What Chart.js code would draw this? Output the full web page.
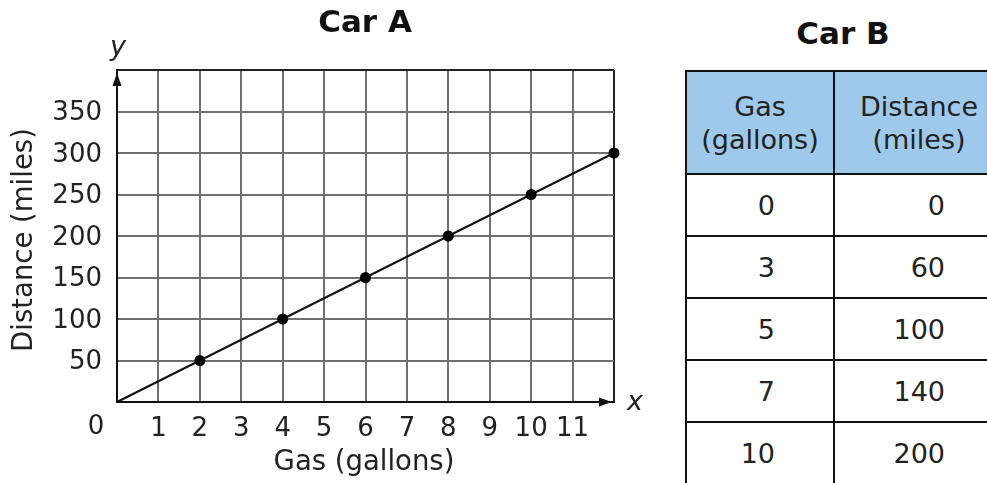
<!DOCTYPE html>
<html>
<head>
<meta charset="utf-8">
<script src="https://cdn.jsdelivr.net/npm/chart.js@4.4.1/dist/chart.umd.min.js"></script>
<style>
  html, body { margin: 0; padding: 0; background: #fff; width: 987px; height: 483px; overflow: hidden; }
  body { position: relative; font-family: "DejaVu Sans", Verdana, sans-serif; color: #222; }
  #chart { position: absolute; left: 0; top: 0; }
  #titleB { position: absolute; left: 743px; width: 200px; top: 13px; text-align: center; font-weight: bold; font-size: 31px; line-height: 40px; color: #111; }
  #tableB { position: absolute; left: 685px; top: 70px; width: 318px; border-collapse: collapse; table-layout: fixed; font-size: 27px; }
  #tableB th, #tableB td { border: 2px solid #111; padding: 0 58px 0 0; text-align: right; }
  #tableB th { background: #9fc9ea; font-weight: normal; text-align: center; padding: 0; height: 101px; line-height: 33px; color: #222; }
  #tableB td { height: 60px; }
</style>
</head>
<body>
<canvas id="chart" width="660" height="483"></canvas>
<div id="titleB">Car B</div>
<table id="tableB">
  <colgroup><col style="width:148px"><col style="width:170px"></colgroup>
  <thead><tr id="headRow"></tr></thead>
  <tbody id="bodyRows"></tbody>
</table>
<script>
'use strict';

// Car A (graph)
const gasA = [0, 2, 4, 6, 8, 10, 12];
const distA = [0, 50, 100, 150, 200, 250, 300];

// Car B (table)
const headB = ['Gas<br>(gallons)', 'Distance<br>(miles)'];
const gasB = [0, 3, 5, 7, 10];
const distB = [0, 60, 100, 140, 200];

let headRow = document.getElementById('headRow');
headB.forEach(h => {
  let th = document.createElement('th');
  th.innerHTML = h;
  headRow.appendChild(th);
});
let body = document.getElementById('bodyRows');
gasB.forEach((g, i) => {
  let tr = document.createElement('tr');
  tr.innerHTML = '<td>' + g + '</td><td>' + distB[i] + '</td>';
  body.appendChild(tr);
});

const font = { family: '"DejaVu Sans"', size: 26 };

// titles, axis names, arrows
const extras = {
  id: 'extras',
  afterDraw(chart) {
    let c = chart.ctx;
    let a = chart.chartArea;
    c.save();
    c.fillStyle = '#111';
    c.textAlign = 'center';
    c.textBaseline = 'middle';
    c.font = 'bold 31px "DejaVu Sans"';
    c.fillText('Car A', 365, 24);
    c.fillStyle = '#222';
    c.font = '27.5px "DejaVu Sans"';
    c.fillText('Gas (gallons)', 364, 463);
    c.save();
    c.translate(25, 240);
    c.rotate(-Math.PI / 2);
    c.fillText('Distance (miles)', 0, 0);
    c.restore();
    c.font = '26px "DejaVu Sans"';
    c.fillText('0', 96, 427);
    c.font = 'italic 27px "DejaVu Sans"';
    c.textBaseline = 'alphabetic';
    c.fillText('x', 635, 410);
    c.fillText('y', 118, 55);
    // arrow heads
    c.fillStyle = '#111';
    c.beginPath();
    c.moveTo(a.left, a.top + 3);
    c.lineTo(a.left - 4.5, a.top + 16);
    c.lineTo(a.left + 4.5, a.top + 16);
    c.closePath();
    c.fill();
    c.beginPath();
    c.moveTo(a.right - 2, a.bottom);
    c.lineTo(a.right - 15, a.bottom - 4.5);
    c.lineTo(a.right - 15, a.bottom + 4.5);
    c.closePath();
    c.fill();
    c.restore();
  }
};

let context = document.getElementById('chart').getContext('2d');
let chart = new Chart(context, {
  type: 'scatter',
  data: {
    datasets: [{
      data: gasA.map((g, i) => ({ x: g, y: distA[i] })),
      showLine: true,
      borderColor: '#111',
      borderWidth: 2,
      pointRadius: ctx => (ctx.raw && ctx.raw.x === 0 ? 0 : 5.5),
      pointBackgroundColor: '#000',
      pointBorderWidth: 0,
      clip: false
    }]
  },
  options: {
    responsive: false,
    animation: false,
    layout: { padding: { top: 70, right: 46, left: 0, bottom: 0 } },
    plugins: { legend: { display: false }, tooltip: { enabled: false } },
    scales: {
      x: {
        type: 'linear', min: 0, max: 12,
        afterFit: s => { s.height = 81; },
        ticks: {
          stepSize: 1, autoSkip: false, maxRotation: 0, padding: 12,
          font: font, color: '#222',
          callback: v => (v > 0 && v < 12 ? v : '')
        },
        grid: {
          drawTicks: false,
          color: ctx => (ctx.tick && ctx.tick.value === 12 ? '#222' : '#6f6f6f'),
          lineWidth: 2
        },
        border: { color: '#111', width: 2 }
      },
      y: {
        min: 0, max: 400,
        afterFit: s => { s.width = 117; },
        ticks: {
          stepSize: 50, padding: 15, labelOffset: 2,
          font: font, color: '#222',
          callback: v => (v > 0 && v < 400 ? v : '')
        },
        grid: {
          drawTicks: false,
          color: ctx => (ctx.tick && ctx.tick.value === 400 ? '#222' : '#6f6f6f'),
          lineWidth: 2
        },
        border: { color: '#111', width: 2 }
      }
    }
  },
  plugins: [extras]
});
</script>
</body>
</html>
